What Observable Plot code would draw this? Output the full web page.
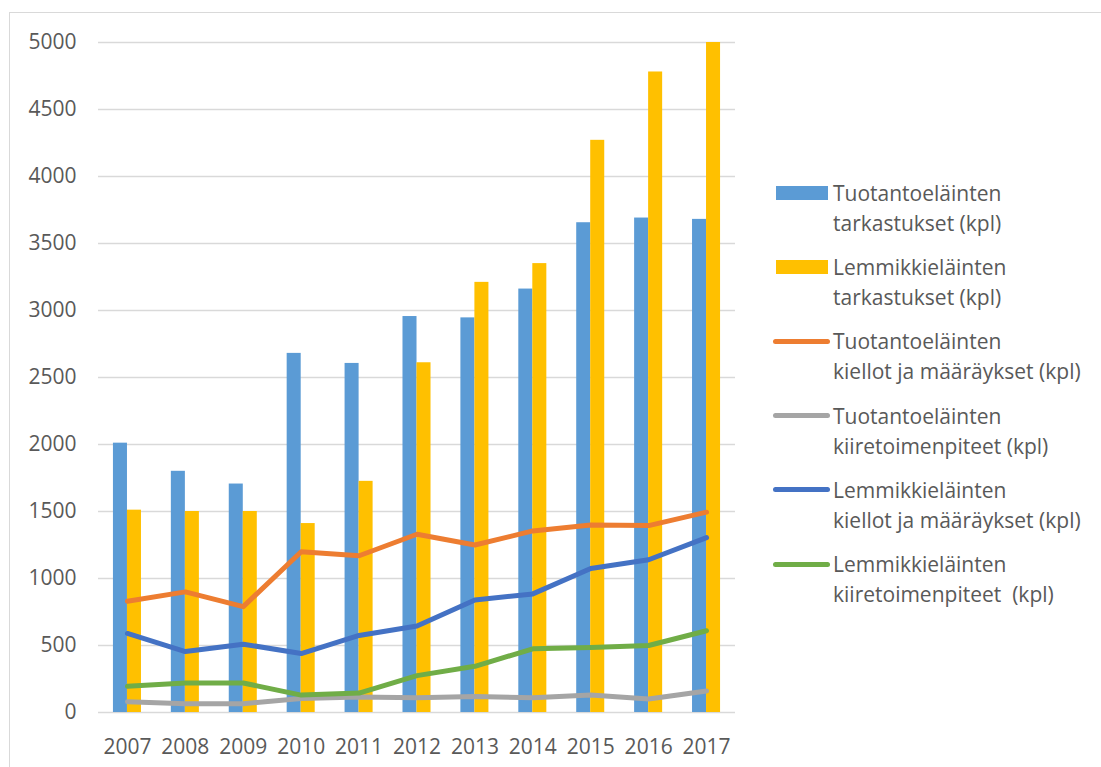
<!DOCTYPE html>
<html>
<head>
<meta charset="utf-8">
<script src="https://cdn.jsdelivr.net/npm/d3@7"></script>
<script src="https://cdn.jsdelivr.net/npm/@observablehq/plot@0.6"></script>
<style>
  html, body { margin: 0; padding: 0; background: #fff; overflow: hidden; }
  #wrap { position: relative; width: 1101px; height: 767px; }
  #frame { position: absolute; left: 9px; top: 12px; width: 1200px; height: 900px; border: 1.5px solid #d9d9d9; box-sizing: border-box; }
  #chart { position: absolute; left: 0; top: 0; }
  #legend { position: absolute; left: 0; top: 0; font-family: 'Open Sans', sans-serif; font-size: 21px; color: #595959; }
  .item { position: absolute; left: 833px; line-height: 30px; white-space: pre; }
  .sw { position: absolute; }
</style>
</head>
<body>
<div id="wrap">
  <div id="frame"></div>
  <div id="chart"></div>
  <div id="legend"></div>
</div>
<script>
const years = ["2007","2008","2009","2010","2011","2012","2013","2014","2015","2016","2017"];
const tuotTarkastukset = [2010, 1800, 1705, 2680, 2605, 2955, 2945, 3160, 3655, 3690, 3680];
const lemmTarkastukset = [1510, 1500, 1500, 1410, 1725, 2610, 3210, 3350, 4270, 4780, 5000];
const tuotKiellot = [830, 900, 790, 1200, 1170, 1330, 1250, 1355, 1400, 1395, 1495];
const tuotKiire = [80, 65, 65, 105, 115, 110, 120, 110, 130, 100, 160];
const lemmKiellot = [590, 455, 510, 440, 575, 645, 840, 885, 1075, 1140, 1305];
const lemmKiire = [195, 220, 220, 130, 145, 275, 345, 475, 485, 500, 610];
const yTicks = [0, 500, 1000, 1500, 2000, 2500, 3000, 3500, 4000, 4500, 5000];

const barSeries = [
  {name: "Tuotantoeläinten\ntarkastukset (kpl)", values: tuotTarkastukset, color: "#5B9BD5", side: "left"},
  {name: "Lemmikkieläinten\ntarkastukset (kpl)", values: lemmTarkastukset, color: "#FFC000", side: "right"}
];
const lineSeries = [
  {name: "Tuotantoeläinten\nkiellot ja määräykset (kpl)", values: tuotKiellot, color: "#ED7D31"},
  {name: "Tuotantoeläinten\nkiiretoimenpiteet (kpl)", values: tuotKiire, color: "#A5A5A5"},
  {name: "Lemmikkieläinten\nkiellot ja määräykset (kpl)", values: lemmKiellot, color: "#4472C4"},
  {name: "Lemmikkieläinten\nkiiretoimenpiteet  (kpl)", values: lemmKiire, color: "#70AD47"}
];

const toRows = vals => years.map((y, i) => ({year: y, value: vals[i]}));

const marks = [
  Plot.ruleY(yTicks, {stroke: "#d9d9d9", strokeWidth: 1.4}),
  ...barSeries.map(s => Plot.barY(toRows(s.values), {
    x: "year", y: "value", fill: s.color,
    insetLeft: s.side === "right" ? 14 : 0,
    insetRight: s.side === "left" ? 14 : 0
  })),
  ...lineSeries.map(s => Plot.lineY(toRows(s.values), {
    x: "year", y: "value", stroke: s.color, strokeWidth: 5,
    strokeLinecap: "round", strokeLinejoin: "round"
  })),
  Plot.axisY({ticks: yTicks, tickSize: 0, tickPadding: 22, tickFormat: d => String(d)}),
  Plot.axisX({tickSize: 0, tickPadding: 27})
];

const chart = Plot.plot({
  width: 1101,
  height: 767,
  marginLeft: 98,
  marginRight: 366,
  marginTop: 42,
  marginBottom: 55,
  style: {fontFamily: "'Open Sans', sans-serif", fontSize: "21px", color: "#595959", background: "transparent", overflow: "visible"},
  x: {type: "band", domain: years, paddingInner: 0.516, paddingOuter: 0.258, round: false, label: null},
  y: {domain: [0, 5000], label: null},
  marks
});
document.getElementById("chart").appendChild(chart);

// legend
const legend = document.getElementById("legend");
const allSeries = [
  ...barSeries.map(s => ({...s, kind: "bar"})),
  ...lineSeries.map(s => ({...s, kind: "line"}))
];
allSeries.forEach((s, i) => {
  const cy = 193 + i * 74.2;
  const t = document.createElement("div");
  t.className = "item";
  t.style.top = (cy - 15) + "px";
  t.textContent = s.name;
  legend.appendChild(t);
  const sw = document.createElement("div");
  sw.className = "sw";
  if (s.kind === "bar") {
    sw.style.left = "776px"; sw.style.width = "52px";
    sw.style.top = (cy - 7) + "px"; sw.style.height = "14px";
    sw.style.background = s.color;
  } else {
    sw.style.left = "773px"; sw.style.width = "57px";
    sw.style.top = (cy - 2.5) + "px"; sw.style.height = "5px";
    sw.style.borderRadius = "2.5px";
    sw.style.background = s.color;
  }
  legend.appendChild(sw);
});
</script>
</body>
</html>
